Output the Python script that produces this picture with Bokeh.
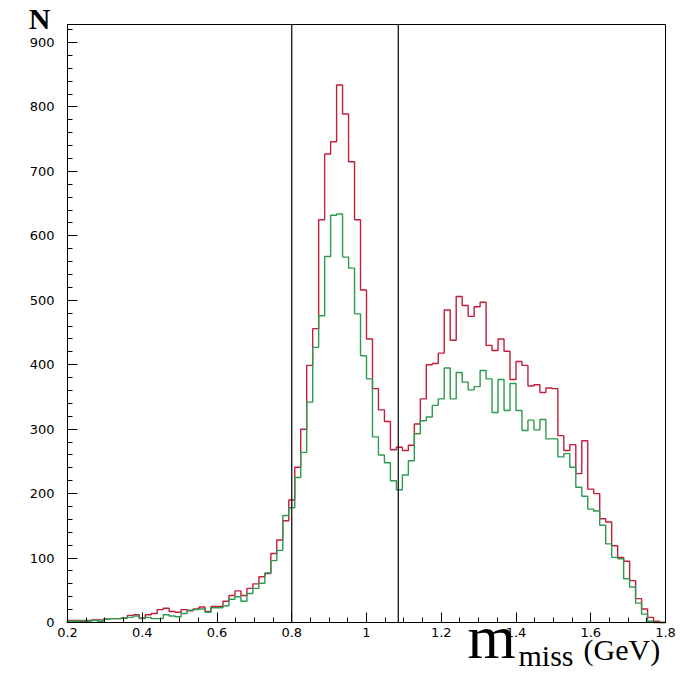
from bokeh.plotting import figure
from bokeh.models import Label, FixedTicker, BoxAnnotation
from bokeh.embed import file_html
from bokeh.resources import INLINE

# ---- data ----
bin_start = 0.2
bin_width = 0.016
red_counts = [3, 3, 2, 3, 4, 4, 5, 6, 6, 7,
              11, 12, 7, 12, 14, 20, 22, 17, 16, 20,
              18, 21, 24, 17, 25, 25, 33, 42, 49, 42,
              53, 60, 71, 76, 107, 128, 158, 190, 241, 300,
              399, 456, 625, 727, 746, 834, 789, 715, 625, 516,
              440, 363, 330, 312, 268, 272, 267, 275, 308, 347,
              400, 402, 418, 485, 438, 506, 492, 475, 490, 497,
              430, 422, 440, 421, 377, 405, 399, 367, 369, 357,
              364, 363, 290, 267, 276, 231, 282, 207, 200, 161,
              156, 119, 101, 95, 65, 37, 21, 8, 2, 0]
green_counts = [2, 2, 3, 2, 3, 2, 5, 6, 6, 7,
                8, 10, 6, 8, 6, 6, 12, 10, 9, 14,
                19, 20, 21, 16, 23, 23, 26, 36, 40, 33,
                45, 53, 61, 77, 96, 112, 166, 178, 225, 264,
                342, 427, 476, 568, 632, 634, 567, 550, 479, 414,
                378, 288, 260, 248, 220, 206, 229, 251, 293, 313,
                319, 337, 347, 395, 347, 388, 373, 361, 366, 391,
                378, 326, 377, 329, 371, 329, 298, 314, 299, 315,
                285, 285, 257, 262, 241, 210, 196, 176, 173, 151,
                122, 101, 99, 68, 55, 30, 13, 2, 0, 0]
cut_lines = [0.8, 1.085]
x_min, x_max = 0.2, 1.8
y_min, y_max = 0, 928
x_ticks = [0.2, 0.4, 0.6, 0.8, 1.0, 1.2, 1.4, 1.6, 1.8]
x_tick_labels = {0.2: "0.2", 0.4: "0.4", 0.6: "0.6", 0.8: "0.8", 1.0: "1",
                 1.2: "1.2", 1.4: "1.4", 1.6: "1.6", 1.8: "1.8"}
y_ticks = [0, 100, 200, 300, 400, 500, 600, 700, 800, 900]

n = len(red_counts)
edges = [bin_start + bin_width * i for i in range(n + 1)]

# layout (pixels): plot box from x=67..665, y=24..622 in the canvas
W, H = 681, 673
box_l, box_r, box_t, box_b = 67, 665, 24, 622
ux = (box_r - box_l) / (x_max - x_min)
uy = (box_b - box_t) / (y_max - y_min)
xr = (x_min - box_l / ux, x_max + (W - box_r) / ux)
yr = (y_min - (H - box_b) / uy, y_max + box_t / uy)

def px_x(px):
    return x_min + (px - box_l) / ux

def px_y(py):
    return y_min + (box_b - py) / uy

p = figure(width=W, height=H, x_range=xr, y_range=yr,
           output_backend="svg", toolbar_location=None, min_border=0)
p.background_fill_color = "white"
p.border_fill_color = "white"
p.outline_line_color = None
p.xgrid.visible = False
p.ygrid.visible = False

def outline(vals):
    xs = [edges[0]]
    ys = [0]
    for i, v in enumerate(vals):
        xs += [edges[i], edges[i + 1]]
        ys += [v, v]
    xs.append(edges[-1])
    ys.append(0)
    return xs, ys

rx, ry = outline(red_counts)
gx, gy = outline(green_counts)
p.line(rx, ry, line_color="#c41e3a", line_width=1.4)
p.line(gx, gy, line_color="#2e9a4e", line_width=1.4)

p.segment(x0=cut_lines, y0=[y_min] * len(cut_lines), x1=cut_lines,
          y1=[y_max] * len(cut_lines), line_color="black", line_width=1.2)

p.add_layout(BoxAnnotation(left=x_min, right=x_max, bottom=y_min, top=y_max,
                           fill_alpha=0, fill_color=None, line_color="black",
                           line_width=1, line_alpha=1))

p.xaxis.fixed_location = 0
p.xaxis.bounds = (x_min, x_max)
p.yaxis.fixed_location = x_min
p.yaxis.bounds = (y_min, y_max)
p.xaxis.ticker = FixedTicker(ticks=x_ticks,
                             minor_ticks=[0.2 + 0.05 * i for i in range(33)])
p.xaxis.major_label_overrides = x_tick_labels
p.yaxis.ticker = FixedTicker(ticks=y_ticks,
                             minor_ticks=[20 * i for i in range(47)])
for ax in (p.xaxis, p.yaxis):
    ax.axis_line_color = "black"
    ax.major_tick_line_color = "black"
    ax.minor_tick_line_color = "black"
    ax.major_tick_in = 10
    ax.major_tick_out = 0
    ax.minor_tick_in = 5
    ax.minor_tick_out = 0
    ax.major_label_text_font = "DejaVu Sans"
    ax.major_label_text_font_size = "13px"
    ax.major_label_text_color = "black"
p.xaxis.major_label_standoff = 5
p.yaxis.major_label_standoff = 13

lab_kw = dict(level="overlay", text_color="black", text_baseline="alphabetic")
p.add_layout(Label(x=px_x(39), y=px_y(18), text="N", text_font="Liberation Serif",
                   text_font_style="bold", text_font_size="30px",
                   text_align="center", **lab_kw))
p.add_layout(Label(x=px_x(467), y=px_y(636), text="m", text_font="Liberation Serif",
                   text_font_size="62px", **lab_kw))
p.add_layout(Label(x=px_x(518), y=px_y(655), text="miss", text_font="Liberation Serif",
                   text_font_size="30px", **lab_kw))
p.add_layout(Label(x=px_x(583), y=px_y(649), text="(GeV)", text_font="Liberation Serif",
                   text_font_size="30px", **lab_kw))

open("out.html", "w").write(file_html(p, INLINE))
